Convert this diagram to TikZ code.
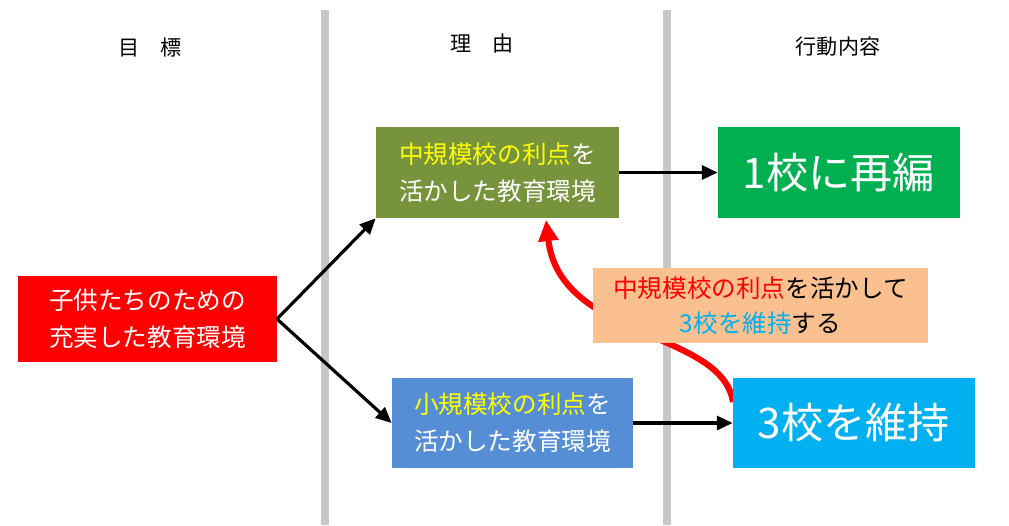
\documentclass[tikz,border=0pt]{standalone}
\usepackage{fontspec}
\setmainfont{Noto Sans CJK JP}
\usetikzlibrary{arrows.meta}
\definecolor{olive}{HTML}{77933C}
\definecolor{bluebox}{HTML}{558ED5}
\definecolor{greenbox}{HTML}{00B050}
\definecolor{cyanbox}{HTML}{00B0F0}
\definecolor{peach}{HTML}{FAC090}
\definecolor{ylw}{HTML}{FFFF00}
\begin{document}
\begin{tikzpicture}[x=0.02cm,y=-0.02cm,
  box/.style={draw=none,minimum width=#1*0.02cm,align=center,inner sep=0pt},
  hdr/.style={font=\fontsize{12}{14}\selectfont},
  arr/.style={-{Triangle[length=9pt,width=8pt]},line width=1.8pt}]
\useasboundingbox (0,0) rectangle (1009,525);
\draw[line width=5pt,color=black!22] (325,10) -- (325,525);
\draw[line width=5pt,color=black!22] (667,10) -- (667,525);
\node[hdr] (h1) at (150,47) {目　標};
\node[hdr] (h2) at (482,43) {理　由};
\node[hdr] (h3) at (838,47) {行動内容};
% red curve behind peach box
\draw[red,line width=3.5pt,-{Triangle[length=12pt,width=11pt]}] (733,402) .. controls (722,330) and (560,340) .. (546,220);
\node[box=335,minimum height=75*0.02cm,fill=peach,font=\fontsize{14}{20}\selectfont] (peach) at (760.5,305.5)
 {\textcolor{red}{中規模校の利点}を活かして\\\textcolor{cyanbox}{3校を維持}する\hspace{5em}};
\node[box=259,minimum height=86*0.02cm,fill=red,text=white,font=\fontsize{14}{21}\selectfont] (goal) at (147.5,319) {子供たちのための\\充実した教育環境};
\node[box=243,minimum height=91*0.02cm,fill=olive,text=white,font=\fontsize{14}{21}\selectfont] (mid) at (497.5,172.5) {\textcolor{ylw}{中規模校の利点}を\\活かした教育環境};
\node[box=241,minimum height=90*0.02cm,fill=bluebox,text=white,font=\fontsize{14}{21}\selectfont] (small) at (512.5,423) {\textcolor{ylw}{小規模校の利点}を\\活かした教育環境};
\node[box=242,minimum height=91*0.02cm,fill=greenbox,text=white,font=\fontsize{24}{28}\selectfont] (one) at (839,172.5) {1校に再編};
\node[box=242,minimum height=90*0.02cm,fill=cyanbox,text=white,font=\fontsize{24}{28}\selectfont] (three) at (854,423) {3校を維持};
\coordinate (g) at (277,319);
\draw[arr] (g) -- (mid.south west);
\draw[arr] (g) -- (small.west);
\draw[arr] (mid) -- (one);
\draw[arr] (small) -- (three);
\end{tikzpicture}
\end{document}
